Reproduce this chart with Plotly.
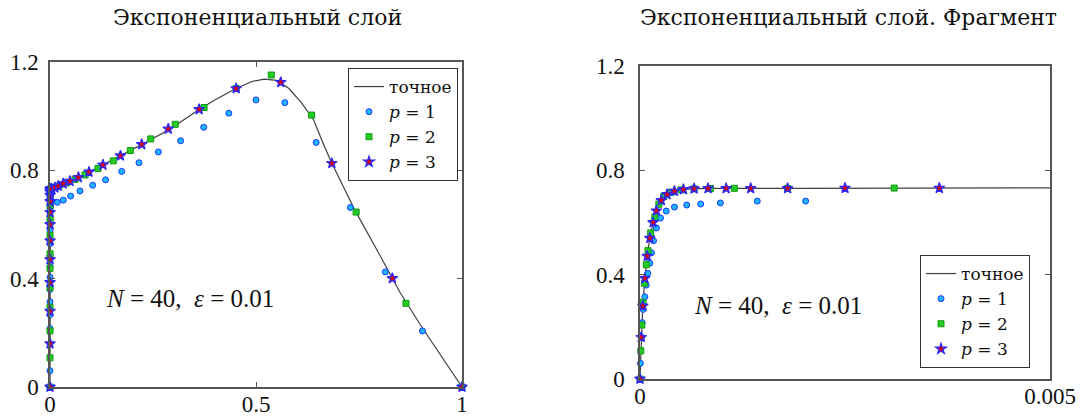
import plotly.graph_objects as go

# ---------------- data ----------------
exact_x = [0, 1e-5, 1.5e-5, 2.5e-5, 3.4e-5, 4.5e-5, 5.9e-5, 7.3e-5, 8.8e-5, 1.05e-4,
           1.2e-4, 1.6e-4, 2.0e-4, 2.6e-4, 3.3e-4, 4.2e-4, 5.3e-4, 7e-4, 1e-3, 2e-3,
           5e-3, 0.02, 0.05, 0.095, 0.13, 0.17, 0.22, 0.29, 0.36, 0.40, 0.45, 0.49,
           0.52, 0.55, 0.58, 0.61, 0.64, 0.66, 0.68, 0.70, 0.74, 0.80, 0.85, 0.90,
           0.95, 1.0]
exact_y = [0, 0.11, 0.16, 0.225, 0.28, 0.33, 0.386, 0.43, 0.471, 0.51,
           0.54, 0.60, 0.645, 0.685, 0.708, 0.72, 0.727, 0.730, 0.731, 0.731,
           0.733, 0.742, 0.761, 0.794, 0.821, 0.853, 0.893, 0.951, 1.023, 1.060,
           1.101, 1.128, 1.137, 1.132, 1.102, 1.050, 0.986, 0.910, 0.840, 0.777,
           0.653, 0.488, 0.348, 0.227, 0.113, 0.0]

p1_x = [0, 5e-6, 1.8e-5, 2.7e-5, 3.9e-5, 5.9e-5, 7.6e-5, 9.5e-5, 1.2e-4, 1.4e-4,
        1.65e-4, 2.0e-4, 2.5e-4, 3.2e-4, 4.2e-4, 5.7e-4, 7.4e-4, 9.8e-4, 1.43e-3,
        2.02e-3, 0.0177, 0.0323, 0.050, 0.0728, 0.1036, 0.135, 0.174, 0.216, 0.263,
        0.317, 0.373, 0.434, 0.500, 0.570, 0.646, 0.729, 0.814, 0.904, 1.0]
p1_y = [0, 0.060, 0.160, 0.216, 0.267, 0.315, 0.360, 0.405, 0.444, 0.484,
        0.53, 0.579, 0.617, 0.644, 0.659, 0.667, 0.671, 0.675, 0.682,
        0.682, 0.682, 0.690, 0.705, 0.724, 0.745, 0.765, 0.796, 0.828, 0.868,
        0.909, 0.959, 1.011, 1.060, 1.050, 0.903, 0.663, 0.425, 0.207, 0.0]

p2_x = [0, 1e-5, 2.2e-5, 3.7e-5, 5.4e-5, 7.6e-5, 9.7e-5, 1.3e-4, 1.8e-4, 2.3e-4,
        2.9e-4, 3.8e-4, 5.0e-4, 6.6e-4, 8.6e-4, 1.15e-3, 1.8e-3, 3.1e-3, 0.012,
        0.0243, 0.0405, 0.061, 0.085, 0.1165, 0.1536, 0.195, 0.2444, 0.304, 0.374,
        0.452, 0.537, 0.635, 0.743, 0.864, 1.0]
p2_y = [0, 0.108, 0.207, 0.294, 0.367, 0.438, 0.492, 0.56, 0.62, 0.67,
        0.70, 0.716, 0.725, 0.729, 0.730, 0.731, 0.731, 0.732, 0.737,
        0.746, 0.754, 0.767, 0.783, 0.807, 0.835, 0.873, 0.916, 0.970, 1.032,
        1.102, 1.152, 1.004, 0.646, 0.309, 0.0]

p3_x = [0, 1.5e-5, 3.4e-5, 5.9e-5, 8.8e-5, 1.2e-4, 1.6e-4, 2.0e-4, 2.6e-4, 3.3e-4,
        4.2e-4, 5.3e-4, 6.6e-4, 8.3e-4, 1.05e-3, 1.35e-3, 1.8e-3, 2.5e-3, 3.65e-3,
        0.012, 0.020, 0.032, 0.0485, 0.069, 0.0947, 0.1286, 0.171, 0.2226, 0.287,
        0.362, 0.452, 0.560, 0.684, 0.831, 1.0]
p3_y = [0, 0.16, 0.28, 0.386, 0.471, 0.54, 0.60, 0.645, 0.685, 0.708,
        0.72, 0.727, 0.73, 0.731, 0.731, 0.731, 0.731, 0.732, 0.732,
        0.736, 0.742, 0.751, 0.760, 0.774, 0.794, 0.820, 0.854, 0.896, 0.953,
        1.025, 1.102, 1.125, 0.826, 0.401, 0.0]

titles = ["Экспоненциальный слой", "Экспоненциальный слой. Фрагмент"]
legend_names = ["точное", "<i>p</i> = 1", "<i>p</i> = 2", "<i>p</i> = 3"]
note_text = "<i>N</i> = 40,  <i>ε</i> = 0.01"
x_range_left = [0, 1]
x_range_right = [0, 0.005]
y_range = [0, 1.2]
y_ticks = [0, 0.4, 0.8, 1.2]
y_ticklabels = ["0", "0.4", "0.8", "1.2"]
x_ticks_left = [0, 0.5, 1]
x_ticklabels_left = ["0", "0.5", "1"]
x_ticks_right = [0, 0.005]
x_ticklabels_right = ["0", "0.005"]

# ---------------- figure ----------------
FONT = "Liberation Serif"
TFONT = "DejaVu Serif"
fig = go.Figure()

styles = [
    dict(mode="lines", line=dict(color="#404040", width=1.2)),
    dict(mode="markers", marker=dict(symbol="circle", size=6, color="#1eb4ff",
                                     line=dict(color="#1a3cff", width=1))),
    dict(mode="markers", marker=dict(symbol="square", size=6, color="#22cc22",
                                     line=dict(color="#119911", width=1))),
    dict(mode="markers", marker=dict(symbol="star", size=8, color="#dd0000",
                                     line=dict(color="#2a2aff", width=1.3))),
]
series = [(exact_x, exact_y), (p1_x, p1_y), (p2_x, p2_y), (p3_x, p3_y)]


def subset(xs, ys, xmax):
    pts = [(a, b) for a, b in zip(xs, ys) if a <= xmax + 1e-12]
    return [p[0] for p in pts], [p[1] for p in pts]


for panel, (xa, ya, leg, xmax) in enumerate([("x", "y", "legend", 1.0),
                                             ("x2", "y2", "legend2", 0.005)]):
    for (xs, ys), st, name in zip(series, styles, legend_names):
        sx, sy = subset(xs, ys, xmax)
        fig.add_trace(go.Scatter(x=sx, y=sy, name=name, xaxis=xa, yaxis=ya,
                                 legend=leg, cliponaxis=False, **st))

axis_common = dict(showline=True, linecolor="#555555", linewidth=1.5, mirror="ticks",
                   ticks="inside", ticklen=5, tickcolor="#555555", tickwidth=1,
                   showgrid=False, zeroline=False, automargin=False,
                   tickfont=dict(family=FONT, size=23, color="#111"))

legend_common = dict(xanchor="right", yanchor="top", bgcolor="white", bordercolor="#333",
                     borderwidth=1, font=dict(family=TFONT, size=17, color="#111"),
                     tracegroupgap=0, itemwidth=30)

fig.update_layout(
    width=1080, height=416, margin=dict(l=0, r=0, t=0, b=0, autoexpand=False),
    paper_bgcolor="white", plot_bgcolor="white",
    font=dict(family=FONT, color="#111"),
    xaxis=dict(domain=[50 / 1080, 462 / 1080], range=x_range_left, ticklabelstandoff=-4,
               tickvals=x_ticks_left, ticktext=x_ticklabels_left, anchor="y", **axis_common),
    yaxis=dict(domain=[29 / 416, 354 / 416], range=y_range, ticklabelstandoff=5,
               tickvals=y_ticks, ticktext=y_ticklabels, anchor="x", **axis_common),
    xaxis2=dict(domain=[640 / 1080, 1050 / 1080], range=x_range_right, ticklabelstandoff=-4,
                tickvals=x_ticks_right, ticktext=x_ticklabels_right, anchor="y2", **axis_common),
    yaxis2=dict(domain=[37 / 416, 350 / 416], range=y_range, ticklabelstandoff=9,
                tickvals=y_ticks, ticktext=y_ticklabels, anchor="x2", **axis_common),
    legend=dict(x=458 / 1080, y=(416 - 68) / 416, **legend_common),
    legend2=dict(x=1030 / 1080, y=(416 - 255) / 416, **legend_common),
    showlegend=True,
)

for txt, cx, cy, fam, sz in [(titles[0], 257, 18, TFONT, 22), (titles[1], 848, 18, TFONT, 22),
                             (note_text, 190, 298, FONT, 25), (note_text, 778, 305, FONT, 25)]:
    fig.add_annotation(text=txt, x=cx / 1080, y=(416 - cy) / 416, xref="paper", yref="paper",
                       xanchor="center", yanchor="middle", showarrow=False,
                       font=dict(family=fam, size=sz, color="#111"))

fig.write_html("out.html")
